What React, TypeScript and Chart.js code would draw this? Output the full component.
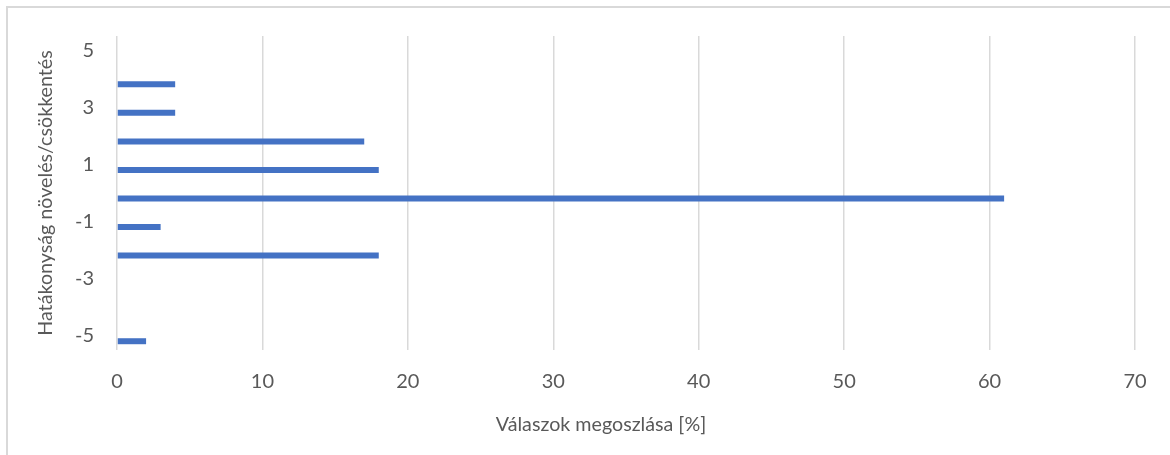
import React, { useEffect, useRef } from 'react';
import { Chart, registerables } from 'chart.js';

Chart.register(...registerables);

// Categories (effect score), bottom (-5) to top (5)
const categories = ['-5', '-4', '-3', '-2', '-1', '0', '1', '2', '3', '4', '5'];
// Share of responses [%] per category
const responseShares = [2, 0, 0, 18, 3, 61, 18, 17, 4, 4, 0];
// Second (empty) series from the source chart – has no values
const emptySeries = [null, null, null, null, null, null, null, null, null, null, null];
const xTickValues = [0, 10, 20, 30, 40, 50, 60, 70];
const xAxisTitle = 'Válaszok megoszlása [%]';
const yAxisTitle = 'Hatákonyság növelés/csökkentés';

const TEXT = '#595959';
const GRID = '#d9d9d9';
const FONT = 'Lato, "Open Sans", sans-serif';

export default function App() {
  const ref = useRef<HTMLCanvasElement | null>(null);

  useEffect(() => {
    if (!ref.current) return;
    const frame = {
      id: 'frame',
      beforeDraw(chart: any) {
        const { ctx } = chart;
        ctx.save();
        ctx.fillStyle = '#ffffff';
        ctx.fillRect(0, 0, chart.width, chart.height);
        ctx.strokeStyle = GRID;
        ctx.lineWidth = 2;
        ctx.beginPath();
        ctx.moveTo(7, chart.height);
        ctx.lineTo(7, 7);
        ctx.lineTo(chart.width, 7);
        ctx.stroke();
        ctx.restore();
      },
      afterDraw(chart: any) {
        const { ctx } = chart;
        ctx.save();
        ctx.fillStyle = TEXT;
        ctx.font = `19.7px ${FONT}`;
        ctx.textAlign = 'center';
        ctx.textBaseline = 'middle';
        ctx.fillText(xAxisTitle, 601, 425);
        ctx.restore();
      },
    };

    const chart = new Chart(ref.current, {
      type: 'bar',
      data: {
        labels: categories,
        datasets: [
          {
            label: 'empty',
            data: emptySeries,
            backgroundColor: '#ed7d31',
          },
          {
            label: 'Válaszok',
            data: responseShares,
            backgroundColor: '#4472C4',
          },
        ],
      },
      options: {
        indexAxis: 'y',
        animation: false,
        responsive: false,
        devicePixelRatio: 1,
        categoryPercentage: 0.77,
        barPercentage: 0.545,
        layout: { padding: { top: 36, right: 35, left: 0, bottom: 0 } },
        plugins: {
          legend: { display: false },
          tooltip: { enabled: false },
        },
        scales: {
          x: {
            type: 'linear',
            min: 0,
            max: 70,
            afterBuildTicks(scale: any) {
              scale.ticks = xTickValues.map((v) => ({ value: v }));
            },
            afterFit(scale: any) {
              scale.height = 105;
            },
            grid: { color: GRID, lineWidth: 1.5, drawTicks: false },
            border: { display: false },
            ticks: {
              color: TEXT,
              font: { family: FONT, size: 20 },
              padding: 20,
            },
          },
          y: {
            type: 'category',
            reverse: true,
            afterFit(scale: any) {
              scale.width = 117;
            },
            grid: { display: false, drawTicks: false },
            border: { display: false },
            ticks: {
              autoSkip: false,
              color: TEXT,
              font: { family: FONT, size: 20 },
              padding: 23,
              callback(this: any, value: any) {
                const lbl = String(this.getLabelForValue(value));
                return Math.abs(Number(lbl)) % 2 === 1 ? lbl : '';
              },
            },
            title: {
              display: true,
              text: yAxisTitle,
              color: TEXT,
              font: { family: FONT, size: 19.7 },
              padding: { top: 34, bottom: 0 },
            },
          },
        },
      },
      plugins: [frame],
    });
    return () => chart.destroy();
  }, []);

  return (
    <div style={{ position: 'fixed', left: 0, top: 0, width: 1170, height: 455 }}>
      <canvas ref={ref} width={1170} height={455} style={{ display: 'block' }} />
    </div>
  );
}
